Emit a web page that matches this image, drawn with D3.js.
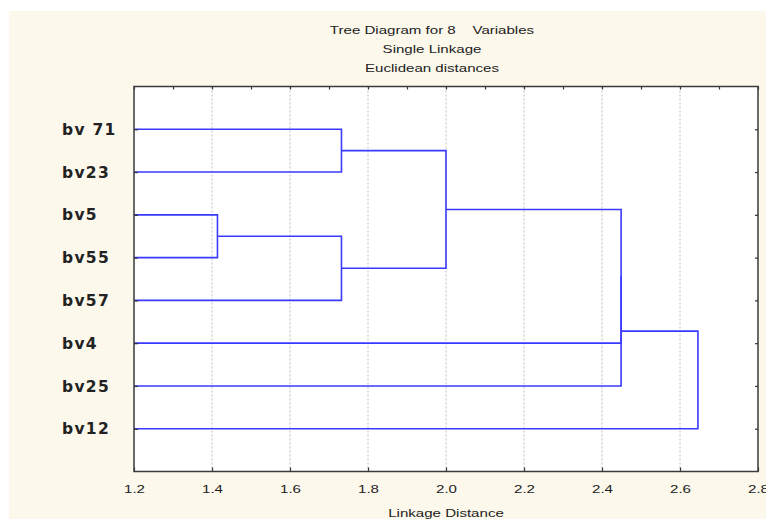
<!DOCTYPE html>
<html><head><meta charset="utf-8">
<script src="https://cdn.jsdelivr.net/npm/d3@7"></script>
<style>body{margin:0;background:#fff}svg{display:block}</style>
</head><body>
<svg id="c" width="766" height="519"></svg>
<script>
const titleLines = ["Tree Diagram for 8    Variables", "Single Linkage", "Euclidean distances"];
const xAxisTitle = "Linkage Distance";
const leaves = ["bv 71", "bv23", "bv5", "bv55", "bv57", "bv4", "bv25", "bv12"];
// linkage: node index 8+i is formed by joining mergeLeft[i] and mergeRight[i] at mergeDist[i]
const mergeLeft  = [2, 0, 8, 9, 11, 12, 13];
const mergeRight = [3, 1, 4, 10, 5, 6, 7];
const mergeDist  = [1.414, 1.732, 1.732, 2.0, 2.449, 2.449, 2.646];
const xTicks = [1.2, 1.4, 1.6, 1.8, 2.0, 2.2, 2.4, 2.6, 2.8];
const xMinorTicks = [1.3, 1.5, 1.7, 1.9, 2.1, 2.3, 2.5, 2.7];

const svg = d3.select("#c");
const L = 134, R = 758, T = 86.5, B = 471.5;
const x = d3.scaleLinear().domain([1.2, 2.8]).range([L, R]);
const y = d3.scalePoint().domain(leaves).range([T, B]).padding(1);
const SX = 1.37;

svg.append("rect").attr("x", 9).attr("y", 11).attr("width", 757).attr("height", 508).attr("fill", "#fcf8ec");
svg.append("rect").attr("x", L).attr("y", T).attr("width", R - L).attr("height", B - T).attr("fill", "#fff");

// title
const tfont = "'Liberation Sans', Arial, sans-serif";
svg.selectAll("text.title").data(titleLines).join("text")
  .attr("class", "title")
  .attr("transform", (d, i) => `translate(432,${34 + i * 19}) scale(${SX},1)`)
  .attr("text-anchor", "middle").attr("font-family", tfont).attr("font-size", 11)
  .attr("fill", "#222").style("white-space", "pre").text(d => d);

// grid
svg.append("g").selectAll("line").data(xTicks.slice(1, -1)).join("line")
  .attr("x1", d => x(d)).attr("x2", d => x(d)).attr("y1", T).attr("y2", B)
  .attr("stroke", "#bdbdbd").attr("stroke-width", 1).attr("stroke-dasharray", "2,2");

// dendrogram
const nodeX = leaves.map(() => 1.2);
const nodeY = leaves.map(d => y(d));
mergeDist.forEach((d, i) => {
  const a = mergeLeft[i], b = mergeRight[i];
  nodeX.push(d);
  nodeY.push((nodeY[a] + nodeY[b]) / 2);
});
svg.append("g").selectAll("path").data(mergeDist).join("path")
  .attr("d", (d, i) => {
    const a = mergeLeft[i], b = mergeRight[i];
    return `M${x(nodeX[a])},${nodeY[a]}H${x(d)}V${nodeY[b]}H${x(nodeX[b])}`;
  })
  .attr("fill", "none").attr("stroke", "#3a3aff").attr("stroke-width", 1.6);

// axes
const axB = svg.append("g").attr("transform", `translate(0,${B})`)
  .call(d3.axisBottom(x).tickValues(xTicks).tickSize(-4).tickPadding(14).tickFormat(d3.format(".1f")));
const axT = svg.append("g").attr("transform", `translate(0,${T})`)
  .call(d3.axisTop(x).tickValues(xTicks.concat(xMinorTicks)).tickSize(-3).tickFormat(""));
const axL = svg.append("g").attr("transform", `translate(${L},0)`)
  .call(d3.axisLeft(y).tickSize(-4).tickFormat(""));
const axR = svg.append("g").attr("transform", `translate(${R},0)`)
  .call(d3.axisRight(y).tickSize(-3).tickFormat(""));
[axB, axT, axL, axR].forEach(g => {
  g.select(".domain").remove();
  g.selectAll("line").attr("stroke", "#333").attr("stroke-width", 1.2);
});
axB.selectAll("text").attr("font-family", tfont).attr("font-size", 11).attr("fill", "#222")
  .attr("transform", `scale(${SX},1)`);

svg.append("rect").attr("x", L).attr("y", T).attr("width", R - L).attr("height", B - T)
  .attr("fill", "none").attr("stroke", "#3a3a3a").attr("stroke-width", 1.5);

// leaf labels
svg.append("g").selectAll("text").data(leaves).join("text")
  .attr("x", 62).attr("y", d => y(d)).attr("dy", "0.36em")
  .attr("font-family", "'DejaVu Sans', sans-serif").attr("font-weight", "bold")
  .attr("font-size", 15.5).attr("letter-spacing", 1.3).attr("fill", "#222")
  .style("white-space", "pre").text(d => d);

// x axis title
svg.append("text").attr("transform", `translate(446,517) scale(${SX},1)`)
  .attr("text-anchor", "middle").attr("font-family", tfont).attr("font-size", 11)
  .attr("fill", "#222").text(xAxisTitle);
</script>
</body></html>
